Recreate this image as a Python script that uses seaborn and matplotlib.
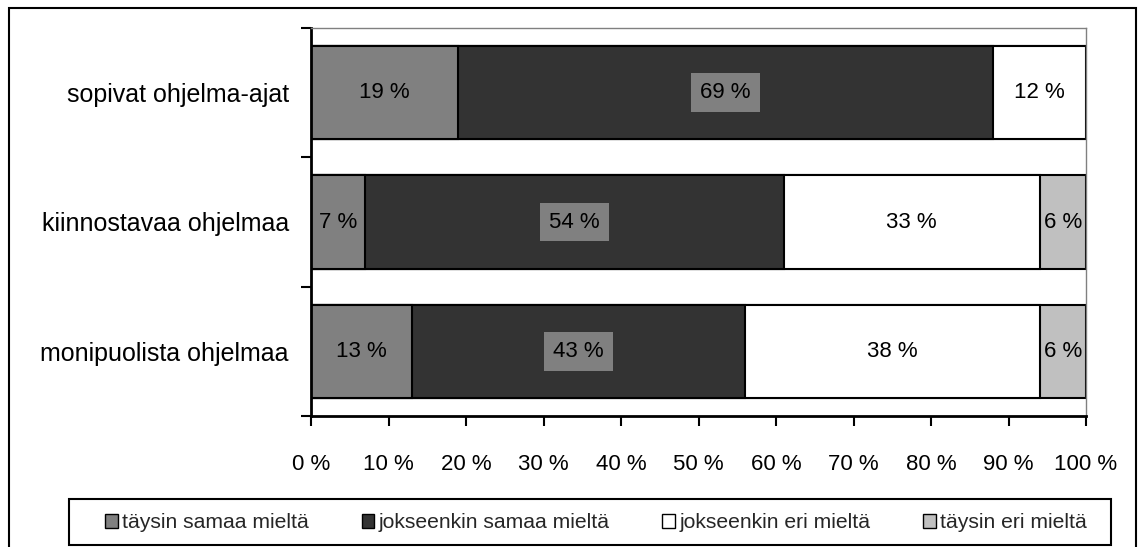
import matplotlib
matplotlib.use("Agg")
import matplotlib.pyplot as plt
from matplotlib.patches import Rectangle
import numpy as np
import pandas as pd
import seaborn as sns

# Survey statements and answer shares (%)
categories = ["sopivat ohjelma-ajat", "kiinnostavaa ohjelmaa", "monipuolista ohjelmaa"]
series_names = ["täysin samaa mieltä", "jokseenkin samaa mieltä",
                "jokseenkin eri mieltä", "täysin eri mieltä"]
taysin_samaa = [19, 7, 13]
jokseenkin_samaa = [69, 54, 43]
jokseenkin_eri = [12, 33, 38]
taysin_eri = [0, 6, 6]
colors = ["#808080", "#333333", "#FFFFFF", "#C0C0C0"]
x_ticks = [0, 10, 20, 30, 40, 50, 60, 70, 80, 90, 100]
x_tick_labels = [f"{t} %" for t in x_ticks]

sns.set_theme(style="white")
plt.rcParams["font.family"] = ["Liberation Sans", "DejaVu Sans"]

values = np.array([taysin_samaa, jokseenkin_samaa, jokseenkin_eri, taysin_eri], dtype=float)
cum = np.cumsum(values, axis=0)

W, H = 1140, 547
fig = plt.figure(figsize=(W / 100, H / 100), dpi=100)
ax = fig.add_axes([311 / W, 1 - 416 / H, (1086 - 311) / W, (416 - 28) / H])

# Stacked bars: draw cumulative totals from the widest down
for i in range(3, -1, -1):
    df = pd.DataFrame({"kategoria": categories, "arvo": cum[i]})
    sns.barplot(data=df, x="arvo", y="kategoria", order=categories, orient="h",
                color=colors[i], saturation=1, edgecolor="black", linewidth=1.5,
                width=0.72, ax=ax, errorbar=None)

# Segment labels
for r in range(len(categories)):
    for i in range(4):
        v = values[i, r]
        if v <= 0:
            continue
        center = cum[i, r] - v / 2
        kw = {}
        if i == 1:
            kw["bbox"] = dict(boxstyle="square,pad=0.4", facecolor="#808080",
                              edgecolor="none")
        ax.text(center, r, f"{int(v)} %", ha="center", va="center",
                fontsize=16, color="black", **kw)

ax.set_xlim(0, 100)
ax.set_ylim(2.5, -0.5)
ax.set_xlabel("")
ax.set_ylabel("")
ax.set_xticks(x_ticks)
ax.set_xticklabels(x_tick_labels, fontsize=16)
ax.set_yticks(range(len(categories)))
ax.set_yticklabels(categories, fontsize=18)
ax.set_yticks([-0.5, 0.5, 1.5, 2.5], minor=True)
ax.tick_params(axis="y", which="major", length=0, pad=16, colors="black")
ax.tick_params(axis="y", which="minor", left=True, length=7, width=1.5, color="black")
ax.tick_params(axis="x", which="major", bottom=True, length=7, width=1.5, pad=20,
               color="black", labelcolor="black")

for side in ["left", "bottom"]:
    ax.spines[side].set_color("black")
    ax.spines[side].set_linewidth(2)
for side in ["top", "right"]:
    ax.spines[side].set_color("#808080")
    ax.spines[side].set_linewidth(1)

# Legend entries, with a separate box drawn around them
handles = [Rectangle((0, 0), 1, 1, facecolor=c, edgecolor="black", linewidth=1)
           for c in colors]
fig.legend(handles, series_names, loc="center", ncol=4,
           bbox_to_anchor=(596 / W, 1 - 523 / H), fontsize=15.2,
           frameon=False, handlelength=0.6, handleheight=0.6,
           handletextpad=0.2, columnspacing=2.5, borderpad=0)
fig.patches.append(Rectangle((69 / W, 1 - 545 / H), (1111 - 69) / W, 46 / H,
                             transform=fig.transFigure, fill=False,
                             edgecolor="black", linewidth=1.5))

# Outer chart frame
fig.patches.append(Rectangle((9 / W, -0.02), (1136 - 9) / W, 1 - 8 / H + 0.02,
                             transform=fig.transFigure, fill=False,
                             edgecolor="black", linewidth=1.5))

fig.savefig("out.png", dpi=100, facecolor="white")
